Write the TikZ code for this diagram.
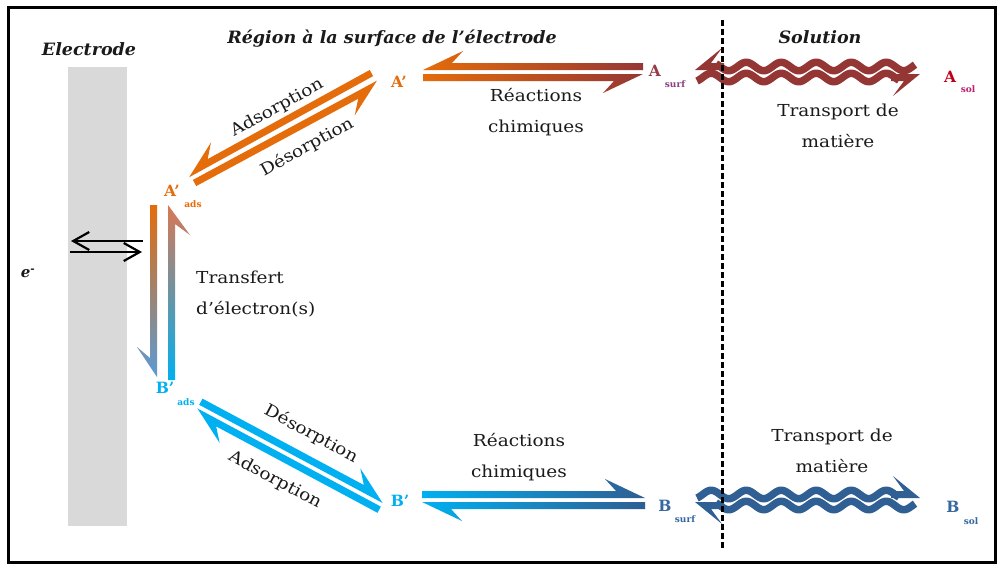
\documentclass[tikz,border=0pt]{standalone}
\usepackage{fontspec}
\setmainfont{DejaVu Serif}
\newfontfamily\lblfont{DejaVu Serif}[FakeStretch=1.12]
\newfontfamily\ttlfont{DejaVu Serif}[FakeStretch=1.03]
\usetikzlibrary{calc,arrows.meta}
\definecolor{orA}{HTML}{E46C0A}
\definecolor{rbrown}{HTML}{953735}
\definecolor{elgray}{HTML}{D9D9D9}
\definecolor{blueA}{HTML}{5B9BD5}
\definecolor{salm}{HTML}{DA7755}
\definecolor{cyanB}{HTML}{00B0F0}
\definecolor{bdark}{HTML}{2F5E92}
\definecolor{waveA}{HTML}{943634}
\definecolor{waveB}{HTML}{2F5F93}
\definecolor{asurfc}{HTML}{963A45}
\definecolor{surfc}{HTML}{8B3F80}
\definecolor{asolc}{HTML}{C00018}
\definecolor{solc}{HTML}{C02070}
\definecolor{bsurfc}{HTML}{3567A0}
\definecolor{txt}{HTML}{1A1A1A}
% harpoon: #1 options, #2 tail, #3 tip, #4 side angle, #5 head length, #6 barb
\newcommand\harp[6][]{%
  \pgfmathsetmacro\hpa{#5}%
  \pgfmathsetmacro\hpb{7+#6}%
  \pgfmathsetmacro\hpc{#5-11}%
  \path[#1] (#2) -- (#3)
    -- ($($(#3)!\hpa pt!(#2)$)!\hpb pt!#4:(#3)$)
    -- ($($(#3)!\hpc pt!(#2)$)!7pt!#4:(#3)$)
    -- ($(#2)!7pt!#4:(#3)$) -- cycle;}
\begin{document}
\begin{tikzpicture}[x=1pt,y=-1pt,
  ttl/.style={font=\ttlfont\fontsize{17}{20}\selectfont\bfseries\itshape, text=txt, inner sep=0pt},
  lbl/.style={font=\lblfont\fontsize{16.5}{31}\selectfont, align=center, text=txt, inner sep=0pt},
  spc/.style={font=\fontsize{15.5}{18}\selectfont\bfseries, inner sep=0pt},
  sub/.style={font=\fontsize{9}{10}\selectfont\bfseries, inner sep=0pt},
  earrow/.style={line width=2.2pt, -{Straight Barb[length=16pt,width=18pt]}}]
\useasboundingbox (0,0) rectangle (998,565);
\fill[white] (0,0) rectangle (998,565);
\draw[line width=3pt] (8.5,7) rectangle (995,562);
\fill[elgray] (68,67) rectangle (127,526);

% titles
\node[ttl] (tE) at (89,49) {Electrode};
\node[ttl] (tR) at (392,39) {Région à la surface de l’électrode};
\node[ttl] (tS) at (820,37) {Solution};

% species
\node[spc, text=orA] (Ap) at (399,82) {A’};
\node[spc, text=orA] (Aads) at (172,191) {A’};
\node[sub, text=orA] (Aadss) at (193,204) {ads};
\node[spc, text=cyanB] (Bads) at (165,388) {B’};
\node[sub, text=cyanB] (Badss) at (186,402) {ads};
\node[spc, text=cyanB] (Bp) at (400,501) {B’};
\node[spc, text=asurfc] (As) at (655,71) {A};
\node[sub, text=surfc] (Ass) at (675,84) {surf};
\node[spc, text=asolc] (Asol) at (950,77) {A};
\node[sub, text=solc] (Asols) at (968,89) {sol};
\node[spc, text=bsurfc] (Bs) at (665,506) {B};
\node[sub, text=bsurfc] (Bss) at (685,519) {surf};
\node[spc, text=bsurfc] (Bsol) at (953,507) {B};
\node[sub, text=bsurfc] (Bsols) at (971,521) {sol};
\node[font=\fontsize{15}{16}\selectfont\bfseries\itshape, text=txt, inner sep=0pt] (el) at (28,273) {e\textsuperscript{-}};

% labels
\node[lbl] (rc1) at (536,112) {Réactions\\chimiques};
\node[lbl] (tm1) at (838,126) {Transport de\\matière};
\node[lbl] (rc2) at (519,457) {Réactions\\chimiques};
\node[lbl] (tm2) at (832,451) {Transport de\\matière};
\node[lbl, align=left, anchor=west] (tr) at (196,294) {Transfert\\d’électron(s)};
\node[lbl, rotate=28.8] (ad1) at (277,108) {Adsorption};
\node[lbl, rotate=28.8] (de1) at (307,147) {Désorption};
\node[lbl, rotate=-28.2] (de2) at (311,434) {Désorption};
\node[lbl, rotate=-28.2] (ad2) at (275,480) {Adsorption};

% top horizontal pair
\coordinate (h1t) at (643,70); \coordinate (h1p) at (423,70);
\coordinate (h2t) at (423,74); \coordinate (h2p) at (643,74);
\harp[left color=orA,right color=rbrown]{h1t}{h1p}{-90}{40}{12}
\harp[left color=orA,right color=rbrown]{h2t}{h2p}{-90}{40}{12}

% vertical pair
\coordinate (v1t) at (157,205); \coordinate (v1p) at (157,377);
\coordinate (v2t) at (168,380); \coordinate (v2p) at (168,205);
\harp[top color=orA,bottom color=blueA]{v1t}{v1p}{-90}{30}{13}
\harp[top color=salm,bottom color=cyanB]{v2t}{v2p}{-90}{30}{15}

% top diagonal pair
\coordinate (d1t) at (373.1,76.1); \coordinate (d1p) at (189.1,177.3);
\coordinate (d2t) at (192.9,179.9); \coordinate (d2p) at (376.9,80.7);
\harp[fill=orA]{d1t}{d1p}{-90}{36}{13}
\harp[fill=orA]{d2t}{d2p}{-90}{36}{13}

% bottom diagonal pair
\coordinate (d3t) at (199.2,404.8); \coordinate (d3p) at (382.6,503.0);
\coordinate (d4t) at (380.8,506.6); \coordinate (d4p) at (197.4,408.4);
\harp[fill=cyanB]{d3t}{d3p}{90}{36}{13}
\harp[fill=cyanB]{d4t}{d4p}{90}{36}{13}

% bottom horizontal pair
\coordinate (h3t) at (422,498); \coordinate (h3p) at (645,498);
\coordinate (h4t) at (645,502); \coordinate (h4p) at (422,502);
\harp[left color=cyanB,right color=bdark]{h3t}{h3p}{90}{40}{12}
\harp[left color=cyanB,right color=bdark]{h4t}{h4p}{90}{40}{12}

% wavy top
\draw[waveA, line width=7.5pt] plot[domain=716:915, samples=140] (\x, {66.5+4.2*sin((\x-720)/35*360)});
\draw[waveA, line width=7.5pt] plot[domain=697:899, samples=140] (\x, {77.5+4.2*sin((\x-720)/35*360)});
\coordinate (w1t) at (724,70); \coordinate (w1p) at (695,70);
\coordinate (w2t) at (891,74); \coordinate (w2p) at (920,74);
\harp[fill=waveA]{w1t}{w1p}{-90}{27}{15}
\harp[fill=waveA]{w2t}{w2p}{-90}{27}{15}

% wavy bottom
\draw[waveB, line width=7.5pt] plot[domain=697:899, samples=140] (\x, {494.5+4.2*sin((\x-720)/35*360)});
\draw[waveB, line width=7.5pt] plot[domain=716:915, samples=140] (\x, {505.5+4.2*sin((\x-720)/35*360)});
\coordinate (w3t) at (891,498); \coordinate (w3p) at (920,498);
\coordinate (w4t) at (724,502); \coordinate (w4p) at (695,502);
\harp[fill=waveB]{w3t}{w3p}{90}{27}{15}
\harp[fill=waveB]{w4t}{w4p}{90}{27}{15}

% electron arrows
\coordinate (e1t) at (143,241); \coordinate (e1p) at (71,241);
\coordinate (e2t) at (70,252); \coordinate (e2p) at (142,252);
\draw[earrow] (e1t) -- (e1p);
\draw[earrow] (e2t) -- (e2p);

% interface
\coordinate (dtop) at (722,20); \coordinate (dbot) at (722,548);
\draw[line width=3pt, dash pattern=on 6pt off 3pt] (dtop) -- (dbot);
\end{tikzpicture}
\end{document}
